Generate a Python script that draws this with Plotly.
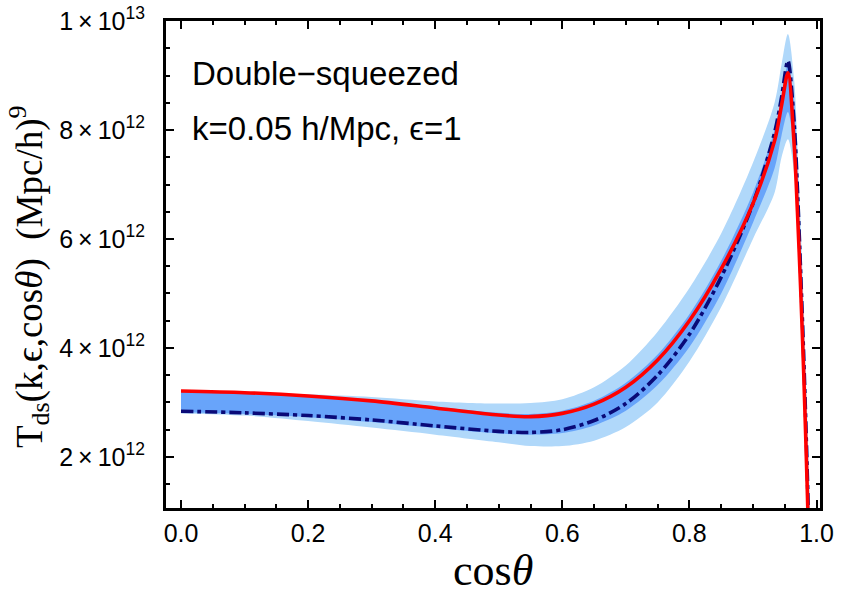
import plotly.graph_objects as go

# ---------------- data (values in units of 1e12 (Mpc/h)^9) ----------------
SCALE = 1e12
cos_theta = [0.0, 0.1, 0.2, 0.3, 0.4, 0.5, 0.55, 0.6, 0.65, 0.7, 0.75, 0.8, 0.85,
             0.9, 0.934, 0.945, 0.955, 0.965, 0.97, 0.975, 0.98, 0.985, 0.99]

red_curve = [3.21, 3.18, 3.12, 3.03, 2.90, 2.77, 2.74, 2.80, 2.97, 3.28, 3.78, 4.50, 5.45,
             6.65, 7.80, 8.45, 9.05, 7.70, 6.50, 5.10, 3.50, 1.60, -0.50]

dashdot_curve = [2.84, 2.81, 2.76, 2.68, 2.57, 2.47, 2.45, 2.50, 2.67, 2.98, 3.50, 4.25, 5.30,
                 6.65, 7.95, 8.60, 9.27, 8.10, 6.90, 5.40, 3.80, 1.90, -0.30]

light_hi = [3.22, 3.19, 3.15, 3.10, 3.02, 2.98, 2.99, 3.06, 3.28, 3.68, 4.30, 5.10, 6.10,
            7.40, 8.50, 9.20, 9.76, 8.90, 7.70, 6.30, 4.70, 2.90, 1.00]
light_lo = [2.80, 2.76, 2.66, 2.54, 2.41, 2.27, 2.20, 2.20, 2.30, 2.55, 3.00, 3.75, 4.75,
            6.00, 6.85, 7.50, 7.83, 7.20, 6.10, 4.80, 3.20, 1.40, -0.50]

dark_hi = [3.21, 3.18, 3.12, 3.03, 2.92, 2.81, 2.79, 2.85, 3.03, 3.36, 3.88, 4.62, 5.60,
           6.85, 8.00, 8.60, 9.20, 8.50, 7.20, 5.60, 4.00, 2.10, 0.20]
dark_lo = [2.82, 2.79, 2.73, 2.64, 2.53, 2.43, 2.41, 2.44, 2.58, 2.85, 3.32, 4.02, 5.00,
           6.30, 7.30, 7.90, 8.33, 7.60, 6.40, 5.00, 3.40, 1.60, -0.40]

x_tickvals = [0.0, 0.2, 0.4, 0.6, 0.8, 1.0]
x_ticktext = ["0.0", "0.2", "0.4", "0.6", "0.8", "1.0"]
y_tickvals = [2e12, 4e12, 6e12, 8e12, 1e13]
y_ticktext = ["2\u2009\u00d7\u200910<sup>12</sup>", "4\u2009\u00d7\u200910<sup>12</sup>",
              "6\u2009\u00d7\u200910<sup>12</sup>", "8\u2009\u00d7\u200910<sup>12</sup>",
              "1\u2009\u00d7\u200910<sup>13</sup>"]

label_line1 = "Double\u2212squeezed"
label_line2 = "k=0.05 h/Mpc, \u03f5=1"
x_title = "cos<i>\u03b8</i>"
y_title = "T<sub>ds</sub>(k,\u03f5,cos<i>\u03b8</i>)\u00a0\u00a0(Mpc/h)<sup>9</sup>"

# ---------------- figure ----------------
W, H = 843, 596
L, R, T, B = 166, 23, 21, 88


def sc(v):
    return [a * SCALE for a in v]


LIGHT = "#b0d8fa"
DARK = "#68a4fa"
SM = 0.85

fig = go.Figure()

# light band
fig.add_trace(go.Scatter(x=cos_theta, y=sc(light_lo), mode="lines",
                         line=dict(width=0, color=LIGHT, shape="spline", smoothing=SM),
                         hoverinfo="skip", showlegend=False))
fig.add_trace(go.Scatter(x=cos_theta, y=sc(light_hi), mode="lines", fill="tonexty",
                         fillcolor=LIGHT,
                         line=dict(width=0, color=LIGHT, shape="spline", smoothing=SM),
                         hoverinfo="skip", showlegend=False))
# dark band
fig.add_trace(go.Scatter(x=cos_theta, y=sc(dark_lo), mode="lines",
                         line=dict(width=0, color=DARK, shape="spline", smoothing=SM),
                         hoverinfo="skip", showlegend=False))
fig.add_trace(go.Scatter(x=cos_theta, y=sc(dark_hi), mode="lines", fill="tonexty",
                         fillcolor=DARK,
                         line=dict(width=0, color=DARK, shape="spline", smoothing=SM),
                         hoverinfo="skip", showlegend=False))
# dash-dot curve
fig.add_trace(go.Scatter(x=cos_theta, y=sc(dashdot_curve), mode="lines",
                         line=dict(width=3.6, color="#0a0a78", dash="12px,4px,4px,4px",
                                   shape="spline", smoothing=SM),
                         showlegend=False))
# red curve
fig.add_trace(go.Scatter(x=cos_theta, y=sc(red_curve), mode="lines",
                         line=dict(width=3.6, color="#ff0000", shape="spline", smoothing=SM),
                         showlegend=False))

axis_common = dict(showline=True, linecolor="black", linewidth=3, mirror="allticks",
                   ticks="inside", ticklen=8, tickwidth=2, tickcolor="black",
                   showgrid=False, zeroline=False, automargin=False,
                   tickfont=dict(family="Liberation Sans, Arial", size=25, color="black"))

fig.update_xaxes(range=[-0.0236, 1.0055], tickmode="array", tickvals=x_tickvals,
                 ticktext=x_ticktext, ticklabelstandoff=1,
                 minor=dict(tickmode="linear", tick0=0, dtick=0.05, ticks="inside",
                            ticklen=4, tickwidth=2, tickcolor="black"),
                 **axis_common)
fig.update_yaxes(range=[1.064e12, 1.0e13], tickmode="array", tickvals=y_tickvals,
                 ticktext=y_ticktext, ticklabelstandoff=13,
                 minor=dict(tickmode="linear", tick0=0, dtick=5e11, ticks="inside",
                            ticklen=4, tickwidth=2, tickcolor="black"),
                 **axis_common)


def px_x(px):
    return (px - L) / (W - L - R)


def px_y(py):
    return 1 - (py - T) / (H - T - B)


ann_font = dict(family="Liberation Sans, Arial", size=33, color="black")
fig.add_annotation(text=label_line1, xref="paper", yref="paper", x=px_x(190), y=px_y(73),
                   xanchor="left", yanchor="middle", showarrow=False, font=ann_font)
fig.add_annotation(text=label_line2, xref="paper", yref="paper", x=px_x(190), y=px_y(129),
                   xanchor="left", yanchor="middle", showarrow=False, font=ann_font)

fig.add_annotation(text=x_title, xref="paper", yref="paper", x=px_x(493), y=px_y(570),
                   xanchor="center", yanchor="middle", showarrow=False,
                   font=dict(family="Liberation Serif, Times New Roman", size=44, color="black"))
fig.add_annotation(text=y_title, xref="paper", yref="paper", x=px_x(29), y=px_y(277),
                   xanchor="center", yanchor="middle", showarrow=False, textangle=-90,
                   font=dict(family="Liberation Serif, Times New Roman", size=37, color="black"))

fig.update_layout(width=W, height=H, margin=dict(l=L, r=R, t=T, b=B, autoexpand=False),
                  plot_bgcolor="white", paper_bgcolor="white")

fig.write_html("out.html", config={"displayModeBar": False},
               post_script="document.body.style.margin='0';")
